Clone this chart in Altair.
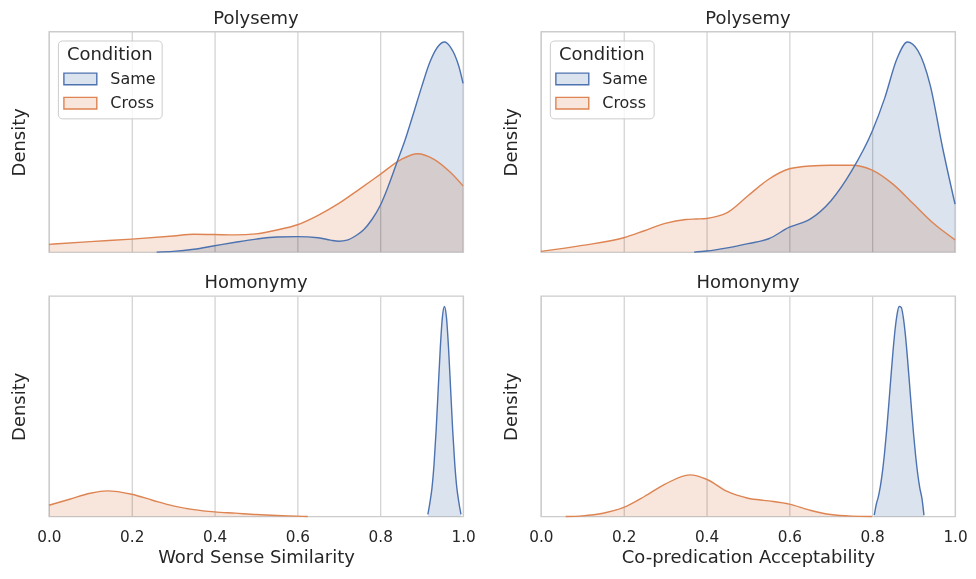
import altair as alt
import pandas as pd

# ---------------- data ----------------
conditions = ["Same", "Cross"]
palette = ["#4c72b0", "#dd8452"]
# the 20% tints of the palette on white, used for the translucent fills
fill_tints = ["#dbe3ef", "#f8e6dc"]
x_ticks = [0.0, 0.2, 0.4, 0.6, 0.8, 1.0]

# Polysemy - Word Sense Similarity
poly_sim_same_x = [0.26, 0.30, 0.35, 0.40, 0.45, 0.50, 0.55, 0.60, 0.65, 0.68, 0.70, 0.72, 0.74, 0.76, 0.78,
                   0.80, 0.82, 0.84, 0.86, 0.88, 0.90, 0.92, 0.94, 0.955, 0.97, 0.99, 1.00]
poly_sim_same_y = [0.00, 0.02, 0.08, 0.18, 0.28, 0.37, 0.43, 0.44, 0.41, 0.34, 0.31, 0.34, 0.46, 0.64, 0.93,
                   1.33, 1.90, 2.55, 3.20, 3.95, 4.72, 5.43, 5.88, 6.00, 5.85, 5.30, 4.82]
poly_sim_cross_x = [0.00, 0.10, 0.20, 0.30, 0.35, 0.40, 0.45, 0.50, 0.55, 0.60, 0.65, 0.70, 0.75, 0.80, 0.85, 0.89, 0.93, 0.97, 1.00]
poly_sim_cross_y = [0.22, 0.30, 0.37, 0.46, 0.51, 0.50, 0.49, 0.52, 0.63, 0.78, 1.05, 1.39, 1.80, 2.22, 2.64, 2.81, 2.65, 2.27, 1.89]

# Polysemy - Co-predication Acceptability
poly_acc_same_x = [0.37, 0.40, 0.45, 0.50, 0.55, 0.60, 0.65, 0.70, 0.75, 0.80, 0.83, 0.86, 0.885, 0.91, 0.94, 0.97, 1.00]
poly_acc_same_y = [0.00, 0.03, 0.12, 0.24, 0.38, 0.71, 0.94, 1.46, 2.31, 3.45, 4.39, 5.53, 6.00, 5.76, 4.77, 2.98, 1.37]
poly_acc_cross_x = [0.00, 0.10, 0.20, 0.25, 0.30, 0.35, 0.375, 0.40, 0.425, 0.45, 0.50, 0.55, 0.60, 0.65, 0.70, 0.75, 0.80,
                    0.85, 0.90, 0.95, 1.00]
poly_acc_cross_y = [0.02, 0.19, 0.41, 0.61, 0.82, 0.93, 0.945, 0.96, 1.02, 1.13, 1.61, 2.08, 2.38, 2.46, 2.48, 2.48, 2.34,
                    1.94, 1.37, 0.80, 0.35]

# Homonymy - Word Sense Similarity
hom_sim_same_x = [0.915, 0.920, 0.925, 0.930, 0.935, 0.940, 0.945, 0.950, 0.955, 0.960, 0.965, 0.970, 0.975, 0.980, 0.985, 0.990, 0.995]
hom_sim_same_y = [0.3, 2.0, 4.1, 7.5, 12.3, 18.2, 24.0, 28.4, 30.0, 28.4, 24.0, 18.2, 12.3, 7.5, 4.1, 2.0, 0.3]
hom_sim_cross_x = [0.00, 0.05, 0.10, 0.14, 0.20, 0.25, 0.30, 0.35, 0.40, 0.45, 0.50, 0.55, 0.60, 0.625]
hom_sim_cross_y = [1.61, 2.47, 3.32, 3.66, 3.18, 2.33, 1.52, 0.99, 0.67, 0.48, 0.28, 0.14, 0.05, 0.00]

# Homonymy - Co-predication Acceptability
hom_acc_same_x = [0.805, 0.810, 0.815, 0.820, 0.825, 0.830, 0.835, 0.840, 0.845, 0.850, 0.855, 0.860, 0.865,
                  0.870, 0.875, 0.880, 0.885, 0.890, 0.895, 0.900, 0.905, 0.910, 0.915, 0.920, 0.925]
hom_acc_same_y = [0.10, 0.95, 1.53, 2.35, 3.46, 4.88, 6.58, 8.50, 10.51, 12.45, 14.12, 15.33, 15.94,
                  15.88, 15.13, 13.82, 12.08, 10.11, 8.10, 6.22, 4.57, 3.21, 2.16, 1.39, 0.10]
hom_acc_cross_x = [0.06, 0.10, 0.15, 0.20, 0.25, 0.30, 0.36, 0.40, 0.45, 0.50, 0.55, 0.60, 0.65, 0.70, 0.75, 0.80]
hom_acc_cross_y = [0.00, 0.05, 0.25, 0.69, 1.52, 2.46, 3.16, 2.83, 1.90, 1.39, 1.19, 0.94, 0.48, 0.15, 0.03, 0.00]

# ---------------- styling ----------------
FONT = "DejaVu Sans"
TEXT = "#262626"
GRID = "#cccccc"
PW, PH = 415, 221

legend_symbol = "M-2,-0.7L2,-0.7L2,0.7L-2,0.7Z"


def make_df(same_x, same_y, cross_x, cross_y):
    rows = []
    for xv, yv in zip(cross_x, cross_y):
        rows.append({"x": xv, "density": yv, "Condition": "Cross"})
    for xv, yv in zip(same_x, same_y):
        rows.append({"x": xv, "density": yv, "Condition": "Same"})
    return pd.DataFrame(rows)


def panel(df, title, xtitle, bottom, show_legend):
    ymax = df["density"].max() * 1.05
    xaxis = alt.Axis(values=x_ticks, format=".1f", labels=bottom, ticks=False, domain=False,
                     grid=True, gridColor=GRID, gridWidth=1.1, labelPadding=13, labelFontSize=15.3,
                     labelFlush=False, titlePadding=4, title=xtitle if bottom else None)
    yaxis = alt.Axis(labels=False, ticks=False, domain=False, grid=False, title="Density",
                     titlePadding=20)
    x = alt.X("x:Q", scale=alt.Scale(domain=[0, 1], nice=False, zero=False), axis=xaxis)
    y = alt.Y("density:Q", scale=alt.Scale(domain=[0, ymax], nice=False), axis=yaxis, stack=None)

    if show_legend:
        leg = alt.Legend(title="Condition", orient="top-left", offset=9,
                         fillColor="rgba(255,255,255,0.8)", strokeColor="#cccccc", cornerRadius=4,
                         padding=6, symbolType=legend_symbol, symbolSize=272, symbolStrokeWidth=1.4,
                         symbolOffset=7.5, labelOffset=21, rowPadding=6.3, titlePadding=5.5,
                         titleAnchor="middle", labelFontSize=16, titleFontSize=18,
                         titleFontWeight="normal", titleColor=TEXT, labelColor=TEXT,
                         labelFont=FONT, titleFont=FONT)
    else:
        leg = None

    fscale = alt.Scale(domain=conditions, range=fill_tints)
    sscale = alt.Scale(domain=conditions, range=palette)
    base = alt.Chart(df)
    area = base.mark_area(interpolate="monotone", blend="multiply").encode(
        x=x, y=y,
        fill=alt.Fill("Condition:N", scale=fscale, legend=leg),
    )
    line = base.mark_line(strokeWidth=1.4, interpolate="monotone").encode(
        x=x, y=y,
        stroke=alt.Stroke("Condition:N", scale=sscale, legend=leg),
        detail="Condition:N",
    )
    return alt.layer(area, line).properties(
        width=PW, height=PH,
        title=alt.TitleParams(title, fontSize=18, font=FONT, fontWeight="normal", color=TEXT, offset=4),
    )


tl = panel(make_df(poly_sim_same_x, poly_sim_same_y, poly_sim_cross_x, poly_sim_cross_y),
           "Polysemy", "Word Sense Similarity", False, True)
tr = panel(make_df(poly_acc_same_x, poly_acc_same_y, poly_acc_cross_x, poly_acc_cross_y),
           "Polysemy", "Co-predication Acceptability", False, True)
bl = panel(make_df(hom_sim_same_x, hom_sim_same_y, hom_sim_cross_x, hom_sim_cross_y),
           "Homonymy", "Word Sense Similarity", True, False)
br = panel(make_df(hom_acc_same_x, hom_acc_same_y, hom_acc_cross_x, hom_acc_cross_y),
           "Homonymy", "Co-predication Acceptability", True, False)

chart = alt.concat(tl, tr, bl, br, columns=2, spacing={"row": 44, "column": 78}, bounds="flush").resolve_scale(
    fill="independent", stroke="independent"
).properties(
    padding={"left": 2, "top": 0, "right": 0, "bottom": 0},
    background="white",
).configure_view(
    stroke="#cccccc", strokeWidth=1.3
).configure_axis(
    labelFont=FONT, titleFont=FONT, labelColor=TEXT, titleColor=TEXT,
    labelFontSize=15.3, titleFontSize=18, titleFontWeight="normal",
)

chart.save("out.html", embed_options={"renderer": "svg", "actions": False})
